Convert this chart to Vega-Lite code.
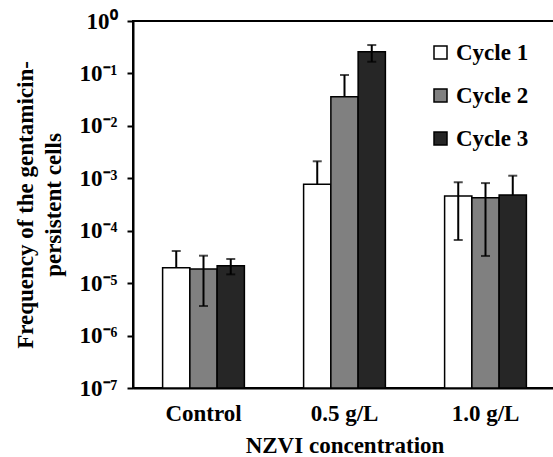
{
  "$schema": "https://vega.github.io/schema/vega-lite/v6.json",
  "width": 423,
  "height": 367,
  "autosize": {"type": "none"},
  "padding": {"left": 133, "top": 21, "right": 0, "bottom": 69},
  "background": "white",
  "config": {
    "font": "Liberation Serif",
    "view": {"stroke": "black", "strokeWidth": 2},
    "axis": {
      "labelFont": "Liberation Serif",
      "labelFontWeight": "bold",
      "labelFontSize": 23,
      "labelColor": "black",
      "titleFont": "Liberation Serif",
      "titleFontWeight": "bold",
      "titleFontSize": 23,
      "titleColor": "black",
      "domainColor": "black",
      "domainWidth": 2,
      "tickColor": "black",
      "tickWidth": 2,
      "grid": false
    },
    "legend": {
      "labelFont": "Liberation Serif",
      "labelFontWeight": "bold",
      "labelFontSize": 23,
      "labelColor": "black"
    }
  },
  "data": {
    "values": [
      {"conc": "Control", "cycle": "Cycle 1", "value": 1.97e-5, "hi": 4.1e-5, "lo": null},
      {"conc": "Control", "cycle": "Cycle 2", "value": 1.86e-5, "hi": 3.34e-5, "lo": 3.66e-6},
      {"conc": "Control", "cycle": "Cycle 3", "value": 2.15e-5, "hi": 2.89e-5, "lo": 1.47e-5},
      {"conc": "0.5 g/L", "cycle": "Cycle 1", "value": 7.67e-4, "hi": 2.11e-3, "lo": null},
      {"conc": "0.5 g/L", "cycle": "Cycle 2", "value": 3.6e-2, "hi": 9.33e-2, "lo": null},
      {"conc": "0.5 g/L", "cycle": "Cycle 3", "value": 0.26, "hi": 0.348, "lo": 0.167},
      {"conc": "1.0 g/L", "cycle": "Cycle 1", "value": 4.6e-4, "hi": 8.4e-4, "lo": 6.65e-5},
      {"conc": "1.0 g/L", "cycle": "Cycle 2", "value": 4.27e-4, "hi": 8.1e-4, "lo": 3.3e-5},
      {"conc": "1.0 g/L", "cycle": "Cycle 3", "value": 4.8e-4, "hi": 1.12e-3, "lo": null}
    ]
  },
  "encoding": {
    "x": {
      "field": "conc",
      "type": "nominal",
      "sort": ["Control", "0.5 g/L", "1.0 g/L"],
      "scale": {"paddingInner": 0.42, "paddingOuter": 0.21},
      "axis": {"labelAngle": 0, "ticks": false, "labelPadding": 14, "title": "NZVI concentration", "titlePadding": 9}
    },
    "xOffset": {
      "field": "cycle",
      "type": "nominal",
      "sort": ["Cycle 1", "Cycle 2", "Cycle 3"],
      "scale": {"paddingInner": 0, "paddingOuter": 0}
    }
  },
  "layer": [
    {
      "mark": {"type": "bar", "stroke": "black", "strokeWidth": 1.5},
      "encoding": {
        "y": {
          "field": "value",
          "type": "quantitative",
          "scale": {"type": "log", "domain": [1e-7, 1]},
          "axis": {
            "values": [1e-7, 1e-6, 1e-5, 1e-4, 1e-3, 1e-2, 1e-1, 1],
            "labelExpr": "'10' + ['⁰','⁻¹','⁻²','⁻³','⁻⁴','⁻⁵','⁻⁶','⁻⁷'][round(-log(datum.value)/LN10)]",
            "tickSize": 6,
            "labelPadding": 10,
            "title": ["Frequency of the gentamicin-", "persistent cells"],
            "titlePadding": 14,
            "titleLineHeight": 28
          }
        },
        "y2": {"datum": 1e-7},
        "fill": {
          "field": "cycle",
          "type": "nominal",
          "sort": ["Cycle 1", "Cycle 2", "Cycle 3"],
          "scale": {"range": ["#ffffff", "#808080", "#262626"]},
          "legend": {
            "title": null,
            "orient": "none",
            "legendX": 296,
            "legendY": 20,
            "symbolType": "square",
            "symbolSize": 169,
            "symbolStrokeColor": "black",
            "symbolStrokeWidth": 1.5,
            "rowPadding": 19,
            "labelOffset": 4
          }
        }
      }
    },
    {
      "mark": {"type": "rule", "color": "black", "strokeWidth": 2},
      "encoding": {
        "y": {"field": "hi", "type": "quantitative"},
        "y2": {"field": "value"}
      }
    },
    {
      "mark": {"type": "tick", "color": "black", "thickness": 2, "size": 9},
      "encoding": {
        "y": {"field": "hi", "type": "quantitative"}
      }
    },
    {
      "transform": [{"filter": "datum.lo != null"}],
      "mark": {"type": "rule", "color": "black", "strokeWidth": 2},
      "encoding": {
        "y": {"field": "lo", "type": "quantitative"},
        "y2": {"field": "value"}
      }
    },
    {
      "transform": [{"filter": "datum.lo != null"}],
      "mark": {"type": "tick", "color": "black", "thickness": 2, "size": 9},
      "encoding": {
        "y": {"field": "lo", "type": "quantitative"}
      }
    }
  ]
}
